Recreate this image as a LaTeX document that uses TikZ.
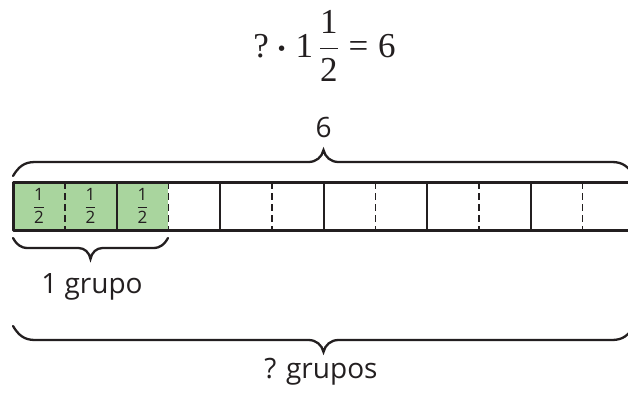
\RequirePackage{fix-cm}
\documentclass[tikz,border=0pt]{standalone}
\usepackage{amsmath}
\usepackage{fontspec}
\setmainfont{Liberation Serif}
\newfontfamily\labelfont{Open Sans}
\definecolor{ink}{HTML}{231F20}
\definecolor{halfgreen}{HTML}{A9D59E}

% horizontal curly brace: x0, x1, y at the ends, y of the flat part, y of the tip,
% width of the end curves, width of the tip curves
\newcommand\curlybrace[7]{%
  \pgfmathsetmacro\bxm{(#1+#2)/2}%
  \pgfmathsetmacro\bya{#4+0.35*(#3-#4)}%
  \pgfmathsetmacro\byb{#4+0.4*(#5-#4)}%
  \draw[bracestroke] (#1,#3) .. controls ({#1+0.25*#6},\bya) and ({#1+0.5*#6},#4) .. ({#1+#6},#4)
    -- ({\bxm-#7},#4) .. controls ({\bxm-0.5*#7},#4) and ({\bxm-0.1*#7},\byb) .. (\bxm,#5)
    .. controls ({\bxm+0.1*#7},\byb) and ({\bxm+0.5*#7},#4) .. ({\bxm+#7},#4)
    -- ({#2-#6},#4) .. controls ({#2-0.5*#6},#4) and ({#2-0.25*#6},\bya) .. (#2,#3);
}
% upright serif glyphs inside the equation
\newcommand\rmg[1]{\text{\rmfamily #1}}

\tikzset{
  bracestroke/.style={draw=ink, line width=2.3pt, line cap=round},
  baredge/.style={draw=ink, line width=3pt, line join=round},
  groupline/.style={draw=ink, line width=2pt},
  halfline/.style={draw=ink, line width=1.5pt, dash pattern=on 7pt off 4pt},
  lbl/.style={inner sep=0pt, text=ink, font=\labelfont\fontsize{28}{34}\selectfont, anchor=base},
  half/.style={inner sep=0pt, text=ink, font=\fontsize{17}{20}\selectfont},
}

\begin{document}
\begin{tikzpicture}[x=1pt, y=-1pt]
  \useasboundingbox (0,0) rectangle (628,394);
  \clip (0,0) rectangle (628,394);

  % equation
  \node[inner sep=0pt, anchor=base, text=ink, font=\fontsize{35}{42}\selectfont] (eq) at (324.5,57)
    {$\rmg{?} \mathbin{\boldsymbol{\cdot}} \rmg{1}\,\dfrac{\rmg{1}}{\rmg{2}} \mathrel{\rmg{=}} \rmg{6}$};

  % the strip of halves
  \fill[halfgreen] (13,182) rectangle (168,230);
  \foreach \k in {0,...,5}
    \draw[halfline] ({64.75+103.5*\k},182) -- ({64.75+103.5*\k},230);
  \foreach \k in {1,...,5}
    \draw[groupline] ({13+103.5*\k},182) -- ({13+103.5*\k},230);
  \draw[baredge] (640,182) -- (13,182) -- (13,230) -- (640,230);

  % one half in each shaded cell
  \node[half] (h1) at (38.9,206) {$\dfrac{\mbox{\labelfont 1}}{\mbox{\labelfont 2}}$};
  \node[half] (h2) at (90.6,206) {$\dfrac{\mbox{\labelfont 1}}{\mbox{\labelfont 2}}$};
  \node[half] (h3) at (142.4,206) {$\dfrac{\mbox{\labelfont 1}}{\mbox{\labelfont 2}}$};

  % braces
  \curlybrace{13}{634}{176}{162}{150}{22}{15}
  \curlybrace{13}{168}{238}{248}{259}{15}{12}
  \curlybrace{13}{634}{326}{340}{352}{22}{15}

  % labels
  \node[lbl] (total) at (323.5,137) {6};
  \node[lbl] (onegroup) at (92,293) {1 grupo};
  \node[lbl] (groups) at (321,378) {? grupos};
\end{tikzpicture}
\end{document}
